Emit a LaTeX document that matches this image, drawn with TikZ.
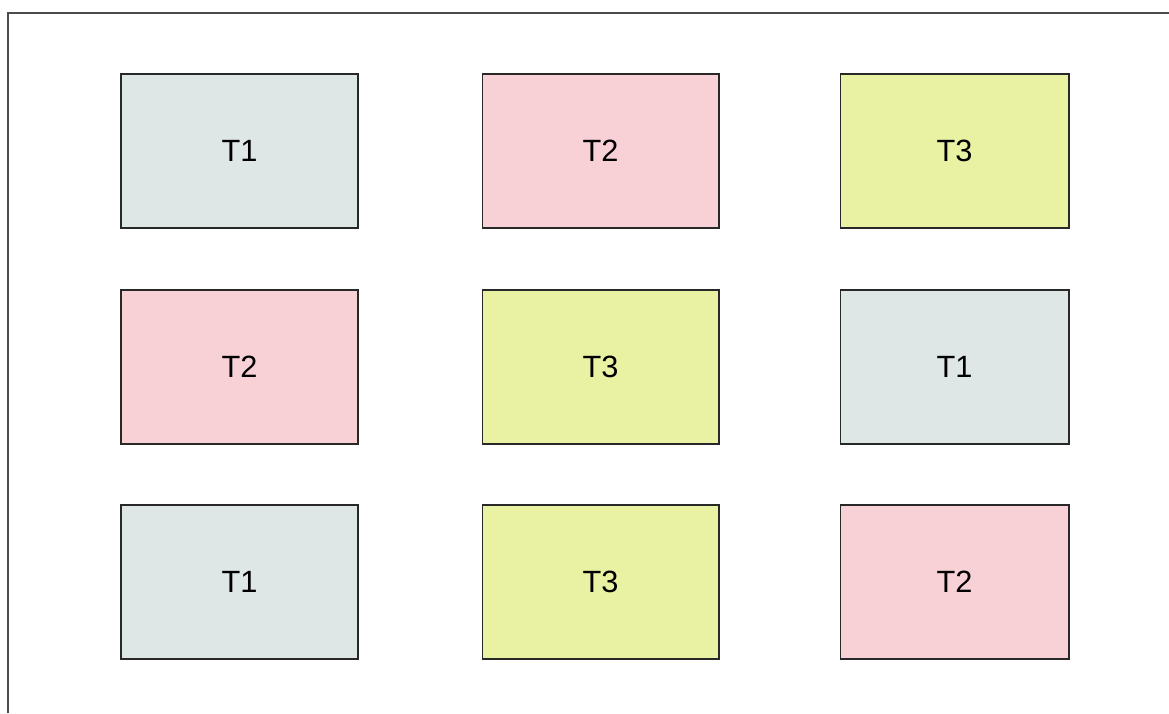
\documentclass[tikz,border=0pt]{standalone}
\usepackage{fontspec}
\setmainfont{Liberation Sans}
\usepackage{xcolor}
\usetikzlibrary{positioning}

\definecolor{taskgrey}{RGB}{223,230,230}
\definecolor{taskpink}{RGB}{248,209,214}
\definecolor{taskyellow}{RGB}{233,242,162}
\definecolor{edgegrey}{RGB}{40,40,40}

\tikzset{
    task/.style={draw=edgegrey, line width=0.6pt, minimum width=4.74cm,
        minimum height=3.08cm, inner sep=0pt, font=\fontsize{17.5}{20}\selectfont},
    taskA/.style={task, fill=taskgrey},
    taskB/.style={task, fill=taskpink},
    taskC/.style={task, fill=taskyellow},
}

\begin{document}
\begin{tikzpicture}[x=0.02cm, y=-0.02cm]
    % page size
    \useasboundingbox (0,0) rectangle (1169,713);

    % frame (top and left edge only)
    \coordinate (framebl) at (8,713);
    \coordinate (frametl) at (8,13);
    \coordinate (frametr) at (1169,13);
    \draw[line width=1.1pt, black!70] (framebl) -- (frametl) -- (frametr);

    % Row 1
    \node[taskA] (r1c1) at (239.5,151) {T1};
    \node[taskB] (r1c2) at (600.5,151) {T2};
    \node[taskC, minimum width=4.58cm] (r1c3) at (954.5,151) {T3};

    % Row 2
    \node[taskB] (r2c1) at (239.5,367) {T2};
    \node[taskC] (r2c2) at (600.5,367) {T3};
    \node[taskA, minimum width=4.58cm] (r2c3) at (954.5,367) {T1};

    % Row 3
    \node[taskA] (r3c1) at (239.5,582) {T1};
    \node[taskC] (r3c2) at (600.5,582) {T3};
    \node[taskB, minimum width=4.58cm] (r3c3) at (954.5,582) {T2};

\end{tikzpicture}
\end{document}
